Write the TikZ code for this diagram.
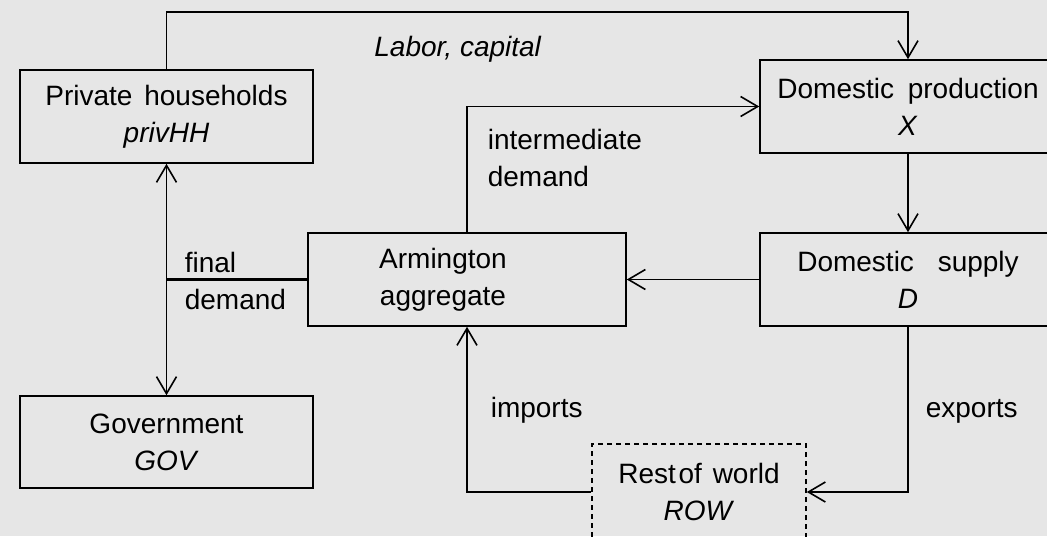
\documentclass[tikz,border=0pt]{standalone}
\usepackage{fontspec}
\setmainfont{Liberation Sans}
\usetikzlibrary{arrows.meta,positioning,calc}
\definecolor{FlowBack}{HTML}{E6E6E6}

\begin{document}
\begin{tikzpicture}[x=1pt,y=-1pt,line width=1.6pt,
  >={Straight Barb[length=17pt,width=20pt]},
  every node/.style={font=\fontsize{28}{37}\selectfont,inner sep=0pt},
  box/.style={draw,align=center,minimum height=93pt}]
  \useasboundingbox (0,0) rectangle (1047,536);
  \fill[FlowBack] (0,0) rectangle (1047,536);
  \clip (0,0) rectangle (1047,536);
  % sectors
  \node[box,minimum width=293pt] (hh) at (166.5,116.5) {Private\hspace{4pt} households\\\textit{privHH}};
  \node[box,minimum width=293pt,minimum height=92pt] (gov) at (166.5,442) {Government\\\textit{GOV}};
  \node[box,minimum width=318pt,label={[align=center,xshift=-24pt]center:{Armington\\aggregate}}] (arm) at (467,279.5) {};
  \node[box,minimum width=296pt] (prod) at (908,106.5) {Domestic\hspace{6pt} production\\\textit{X}};
  \node[box,minimum width=296pt] (sup) at (908,279.5) {Domestic\hspace{16pt} supply\\\textit{D}};
  \node[box,dashed,dash pattern=on 5pt off 4pt,minimum width=214pt,minimum height=96pt] (row) at (699,492) {Rest\hspace{-5pt} of\hspace{3pt} world\\\textit{ROW}};
  % flow labels
  \node[anchor=base] (labcap) at (458,56) {\textit{Labor, capital}};
  \node[anchor=north west,align=left] (inter) at (487,128) {intermediate\\demand};
  \node[anchor=north west,align=left] (final) at (184,251) {final\\demand};
  \node[anchor=base west] (imp) at (490,417) {imports};
  \node[anchor=base west] (exp) at (925,417) {exports};
  % flows
  \coordinate (topline) at (0,12);
  \draw[->] (hh.north) -- (hh.north |- topline) -| (prod.north);
  \draw[->] (arm.north) |- (prod.west);
  \draw[->] (prod.south) -- (sup.north);
  \draw[->] (sup.west) -- (arm.east);
  \draw[<->] (hh.south) -- (gov.north);
  \draw[line width=2.4pt] (arm.west) -- (arm.west -| hh.south);
  \draw[->] (sup.south) |- (row.east);
  \draw[->] (row.west) -| (arm.south);
\end{tikzpicture}
\end{document}
